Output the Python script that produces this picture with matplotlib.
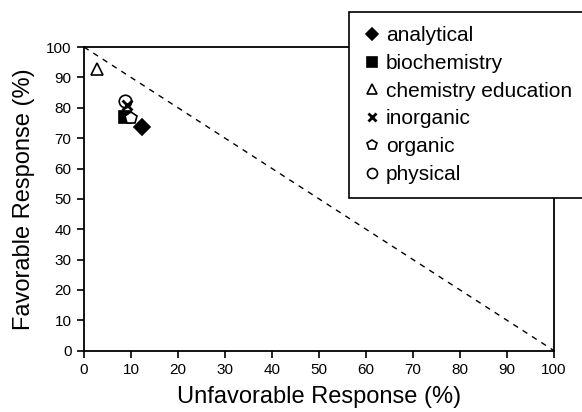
import matplotlib.pyplot as plt

plt.rcParams['font.family'] = ['Liberation Sans', 'DejaVu Sans']

fields = ["analytical", "biochemistry", "chemistry education", "inorganic", "organic", "physical"]
unfavorable = [12.3, 8.7, 2.7, 9.1, 9.9, 8.7]
favorable = [73.6, 76.9, 92.7, 81.0, 76.6, 82.1]
markers = ["D", "s", "^", "x", "p", "o"]
filled = [True, True, False, True, False, False]

fig = plt.figure(figsize=(5.82, 4.12), dpi=100)
ax = fig.add_axes([0.1443, 0.1488, 0.8077, 0.737])

ax.plot([0, 100], [100, 0], linestyle=(0, (4, 4)), color="black", linewidth=1)

for name, x, y, m, f in zip(fields, unfavorable, favorable, markers, filled):
    if m == "x":
        ax.plot(x, y, marker=m, linestyle="none", color="black", markersize=7,
                markeredgewidth=2, label=name, zorder=5)
    else:
        ax.plot(x, y, marker=m, linestyle="none", markersize=9 if m != "D" else 8,
                markerfacecolor="black" if f else "white", markeredgecolor="black",
                markeredgewidth=1.2, label=name, zorder=3)

ax.set_xlim(0, 100)
ax.set_ylim(0, 100)
ax.set_xticks(range(0, 101, 10))
ax.set_yticks(range(0, 101, 10))
ax.tick_params(direction="out", length=5, width=1.2, labelsize=11, color="black", pad=4)
for s in ax.spines.values():
    s.set_linewidth(1.3)

ax.set_xlabel("Unfavorable Response (%)", fontsize=17, labelpad=6)
ax.set_ylabel("Favorable Response (%)", fontsize=17, labelpad=8)

leg = ax.legend(loc="upper left", bbox_to_anchor=(349 / 582, 1 - 12 / 412),
                bbox_transform=fig.transFigure, fontsize=15, frameon=True,
                fancybox=False, borderaxespad=0, handletextpad=0.3, labelspacing=0.42,
                handlelength=0.8, markerscale=0.8, borderpad=0.68)
leg.get_frame().set_edgecolor("black")
leg.get_frame().set_linewidth(1.2)
leg.get_frame().set_alpha(1)

fig.savefig("out.png", dpi=100)
